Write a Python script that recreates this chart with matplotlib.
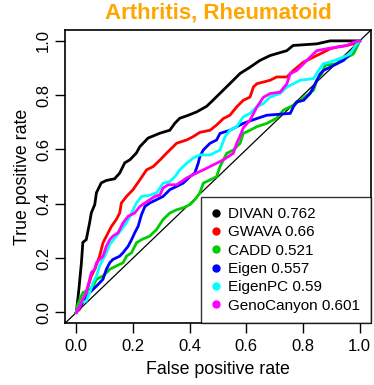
import matplotlib
matplotlib.use("Agg")
import matplotlib.pyplot as plt
from matplotlib.lines import Line2D

plt.rcParams['font.family'] = ['Liberation Sans', 'DejaVu Sans']

title = "Arthritis, Rheumatoid"
methods = ["DIVAN", "GWAVA", "CADD", "Eigen", "EigenPC", "GenoCanyon"]
aucs = ["0.762", "0.66", "0.521", "0.557", "0.59", "0.601"]
colors = ["#000000", "#FF0000", "#00CD00", "#0000FF", "#00FFFF", "#FF00FF"]

divan_fpr = [0, 0.009, 0.018, 0.023, 0.035, 0.047, 0.053, 0.065, 0.071, 0.088, 0.106, 0.135, 0.153, 0.171, 0.189, 0.212, 0.224, 0.253, 0.295, 0.330, 0.348, 0.365, 0.395, 0.424, 0.460, 0.482, 0.518, 0.553, 0.578, 0.613, 0.648, 0.684, 0.743, 0.765, 0.849, 0.896, 1.0]
divan_tpr = [0, 0.085, 0.184, 0.258, 0.268, 0.331, 0.367, 0.397, 0.441, 0.477, 0.486, 0.492, 0.513, 0.551, 0.562, 0.587, 0.610, 0.642, 0.660, 0.671, 0.697, 0.715, 0.726, 0.738, 0.759, 0.781, 0.818, 0.854, 0.880, 0.903, 0.928, 0.946, 0.964, 0.983, 0.989, 1.0, 1.0]

gwava_fpr = [0, 0.012, 0.035, 0.053, 0.065, 0.082, 0.094, 0.112, 0.124, 0.141, 0.153, 0.159, 0.177, 0.200, 0.224, 0.248, 0.271, 0.295, 0.318, 0.354, 0.389, 0.412, 0.436, 0.472, 0.495, 0.519, 0.542, 0.566, 0.589, 0.613, 0.625, 0.637, 0.684, 0.707, 0.743, 0.766, 0.802, 0.837, 0.872, 0.896, 0.920, 0.955, 0.978, 1.0]
gwava_tpr = [0, 0.012, 0.074, 0.134, 0.159, 0.207, 0.256, 0.293, 0.317, 0.342, 0.366, 0.403, 0.427, 0.452, 0.488, 0.525, 0.537, 0.561, 0.586, 0.623, 0.635, 0.647, 0.663, 0.671, 0.690, 0.714, 0.726, 0.757, 0.781, 0.793, 0.830, 0.842, 0.855, 0.867, 0.867, 0.891, 0.922, 0.940, 0.958, 0.971, 0.977, 0.983, 0.989, 1.0]

cadd_fpr = [0, 0.005, 0.023, 0.047, 0.059, 0.071, 0.094, 0.118, 0.141, 0.165, 0.177, 0.195, 0.212, 0.230, 0.259, 0.283, 0.306, 0.330, 0.354, 0.377, 0.401, 0.418, 0.436, 0.448, 0.472, 0.495, 0.507, 0.519, 0.531, 0.554, 0.578, 0.589, 0.613, 0.637, 0.672, 0.707, 0.731, 0.766, 0.790, 0.814, 0.837, 0.849, 0.867, 0.878, 0.920, 0.931, 0.955, 0.978, 0.990, 1.0]
cadd_tpr = [0, 0.030, 0.073, 0.085, 0.097, 0.122, 0.134, 0.159, 0.171, 0.183, 0.207, 0.220, 0.256, 0.268, 0.281, 0.305, 0.342, 0.366, 0.378, 0.385, 0.397, 0.415, 0.440, 0.476, 0.488, 0.500, 0.537, 0.562, 0.586, 0.598, 0.623, 0.659, 0.671, 0.684, 0.696, 0.715, 0.745, 0.763, 0.781, 0.800, 0.818, 0.855, 0.879, 0.910, 0.916, 0.928, 0.939, 0.952, 0.977, 1.0]

eigen_fpr = [0, 0.023, 0.047, 0.071, 0.094, 0.106, 0.118, 0.129, 0.153, 0.165, 0.183, 0.195, 0.206, 0.218, 0.230, 0.242, 0.259, 0.283, 0.306, 0.330, 0.354, 0.377, 0.401, 0.418, 0.430, 0.436, 0.448, 0.472, 0.495, 0.507, 0.542, 0.589, 0.637, 0.672, 0.755, 0.766, 0.778, 0.802, 0.825, 0.837, 0.849, 0.861, 0.872, 0.896, 0.920, 0.943, 0.967, 0.978, 0.990, 1.0]
eigen_tpr = [0, 0.037, 0.073, 0.097, 0.122, 0.159, 0.183, 0.195, 0.207, 0.220, 0.244, 0.268, 0.293, 0.317, 0.360, 0.390, 0.403, 0.415, 0.427, 0.452, 0.464, 0.476, 0.500, 0.513, 0.549, 0.574, 0.598, 0.623, 0.635, 0.659, 0.671, 0.696, 0.714, 0.726, 0.733, 0.757, 0.775, 0.781, 0.806, 0.830, 0.855, 0.879, 0.891, 0.903, 0.916, 0.928, 0.952, 0.971, 0.989, 1.0]

eigenpc_fpr = [0, 0.018, 0.035, 0.047, 0.059, 0.071, 0.082, 0.094, 0.106, 0.118, 0.141, 0.159, 0.177, 0.195, 0.212, 0.230, 0.253, 0.283, 0.295, 0.306, 0.330, 0.348, 0.365, 0.389, 0.412, 0.436, 0.472, 0.507, 0.525, 0.542, 0.566, 0.589, 0.613, 0.637, 0.660, 0.684, 0.719, 0.743, 0.766, 0.790, 0.837, 0.855, 0.872, 0.896, 0.943, 0.967, 0.978, 0.990, 1.0]
eigenpc_tpr = [0, 0.037, 0.042, 0.073, 0.110, 0.134, 0.171, 0.195, 0.220, 0.250, 0.281, 0.305, 0.330, 0.366, 0.403, 0.427, 0.430, 0.440, 0.458, 0.476, 0.482, 0.500, 0.525, 0.549, 0.568, 0.580, 0.580, 0.598, 0.647, 0.671, 0.684, 0.720, 0.733, 0.757, 0.769, 0.793, 0.806, 0.830, 0.842, 0.855, 0.861, 0.891, 0.916, 0.922, 0.940, 0.952, 0.971, 0.989, 1.0]

geno_fpr = [0, 0.012, 0.023, 0.035, 0.047, 0.053, 0.065, 0.071, 0.082, 0.094, 0.106, 0.118, 0.129, 0.147, 0.165, 0.183, 0.206, 0.224, 0.242, 0.259, 0.277, 0.295, 0.306, 0.324, 0.354, 0.371, 0.389, 0.412, 0.436, 0.460, 0.519, 0.554, 0.566, 0.578, 0.589, 0.613, 0.637, 0.660, 0.684, 0.719, 0.743, 0.755, 0.778, 0.802, 0.825, 0.849, 0.884, 0.920, 0.955, 0.978, 1.0]
geno_tpr = [0, 0.024, 0.049, 0.073, 0.122, 0.147, 0.159, 0.183, 0.195, 0.207, 0.244, 0.268, 0.281, 0.293, 0.330, 0.354, 0.366, 0.390, 0.403, 0.415, 0.427, 0.433, 0.458, 0.470, 0.470, 0.482, 0.495, 0.507, 0.519, 0.531, 0.562, 0.586, 0.623, 0.650, 0.679, 0.708, 0.756, 0.792, 0.806, 0.811, 0.842, 0.879, 0.891, 0.916, 0.940, 0.964, 0.971, 0.977, 0.983, 0.995, 1.0]

fprs = [divan_fpr, gwava_fpr, cadd_fpr, eigen_fpr, eigenpc_fpr, geno_fpr]
tprs = [divan_tpr, gwava_tpr, cadd_tpr, eigen_tpr, eigenpc_tpr, geno_tpr]

ticks = [0.0, 0.2, 0.4, 0.6, 0.8, 1.0]
tick_labels = ["0.0", "0.2", "0.4", "0.6", "0.8", "1.0"]

fig = plt.figure(figsize=(3.74, 3.85), dpi=100)
ax = fig.add_axes([0.1738, 0.1603, 0.8182, 0.7618])
ax.set_xlim(-0.04, 1.04)
ax.set_ylim(-0.04, 1.04)

ax.plot([-0.04, 1.04], [-0.04, 1.04], color="black", lw=0.9, zorder=1)
for f, t, c in zip(fprs, tprs, colors):
    ax.plot(f, t, color=c, lw=2.0, zorder=2, solid_joinstyle='miter')

ax.set_xticks(ticks)
ax.set_xticklabels(tick_labels)
ax.set_yticks(ticks)
ax.set_yticklabels(tick_labels, rotation=90, va='center')
ax.tick_params(axis='both', length=7, width=1, labelsize=12, color='black')
ax.tick_params(axis='x', pad=4)
ax.tick_params(axis='y', pad=3)
for s in ax.spines.values():
    s.set_linewidth(1.2)

ax.set_xlabel("False positive rate", fontsize=12.8, labelpad=5)
ax.set_ylabel("True positive rate", fontsize=12.8, labelpad=4)
ax.set_title(title, color="#FFA500", fontsize=16, fontweight='bold', pad=8)

handles = [Line2D([], [], marker='o', color=c, linestyle='None', markersize=5) for c in colors]
labels = [f"{m} {a}" for m, a in zip(methods, aucs)]
leg = ax.legend(handles, labels, loc='lower right', bbox_to_anchor=(1.0, 0.0),
                borderaxespad=0, fontsize=11, frameon=True, fancybox=False,
                handlelength=0.6, handletextpad=0.51, labelspacing=0.28, borderpad=0.7)
leg.get_frame().set_edgecolor('black')
leg.get_frame().set_linewidth(1.0)

fig.savefig("out.png", dpi=100)
